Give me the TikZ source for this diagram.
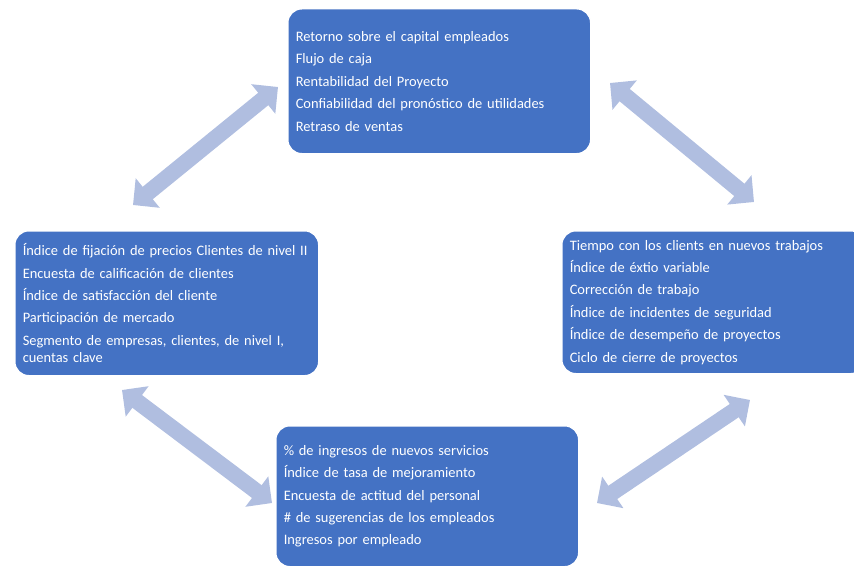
\documentclass[tikz,border=0pt]{standalone}
\usepackage{fontspec}
\setmainfont{Carlito}
\usepackage{tikz}
\usepackage{xcolor}
\usetikzlibrary{arrows.meta, positioning}

\definecolor{azulCaja}{RGB}{68,114,196}
\definecolor{azulFlecha}{RGB}{176,190,224}

\begin{document}
\begin{tikzpicture}[
	x=1bp, y=-1bp,
	% cajas de indicadores
	caja/.style={draw=white, line width=1.5bp, fill=azulCaja, text=white, rounded corners=14bp,
		anchor=north west, align=left, text width=287bp, inner xsep=8bp, inner ysep=0pt,
		minimum height=145bp, font=\fontsize{14.5}{17.5}\selectfont},
	% flechas dobles
	flecha/.style={{Triangle[width=37bp,length=19bp]}-{Triangle[width=37bp,length=19bp]},
		line width=16bp, draw=azulFlecha},
	]
	
	\useasboundingbox (0,0) rectangle (854,567);
	
	\node[caja] (arriba) at (287,8) {Retorno sobre el capital empleados\\[5bp]
		Flujo de caja\\[5bp]
		Rentabilidad del Proyecto\\[5bp]
		Confiabilidad del pronóstico de utilidades\\[5bp]
		Retraso de ventas};
	
	\node[caja, text width=288bp] (izquierda) at (14,230) {Índice de fijación de precios Clientes de nivel II\\[5bp]
		Encuesta de calificación de clientes\\[5bp]
		Índice de satisfacción del cliente\\[5bp]
		Participación de mercado\\[5bp]
		Segmento de empresas, clientes, de nivel I,\\
		cuentas clave};
	
	\node[caja, minimum height=143bp] (derecha) at (561,230) {Tiempo con los clients en nuevos trabajos\\[5bp]
		Índice de éxtio variable\\[5bp]
		Corrección de trabajo\\[5bp]
		Índice de incidentes de seguridad\\[5bp]
		Índice de desempeño de proyectos\\[5bp]
		Ciclo de cierre de proyectos};
	
	\node[caja, minimum height=141bp] (abajo) at (275,425) {\% de ingresos de nuevos servicios\\[5bp]
		Índice de tasa de mejoramiento\\[5bp]
		Encuesta de actitud del personal\\[5bp]
		\# de sugerencias de los empleados\\[5bp]
		Ingresos por empleado};
	
	
	\coordinate (pIzqArriba) at (133,205);
	\coordinate (pArribaIzq) at (278,87);
	\coordinate (pArribaDer) at (610,83);
	\coordinate (pDerArriba) at (754,202);
	\coordinate (pIzqAbajo) at (122,390);
	\coordinate (pAbajoIzq) at (272,503);
	\coordinate (pAbajoDer) at (597,503);
	\coordinate (pDerAbajo) at (750,400);
	
	\draw[flecha] (pIzqArriba) -- (pArribaIzq);
	\draw[flecha] (pArribaDer) -- (pDerArriba);
	\draw[flecha] (pIzqAbajo) -- (pAbajoIzq);
	\draw[flecha] (pAbajoDer) -- (pDerAbajo);
	
\end{tikzpicture}
\end{document}
